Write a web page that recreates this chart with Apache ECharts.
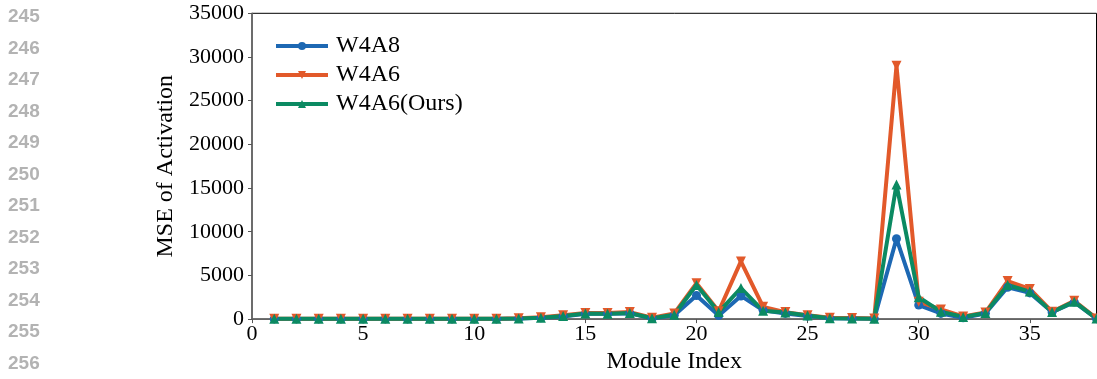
<!DOCTYPE html>
<html>
<head>
<meta charset="utf-8">
<script src="https://cdn.jsdelivr.net/npm/echarts@6/dist/echarts.min.js"></script>
<style>
html,body{margin:0;padding:0;background:#fff;}
#main{width:1097px;height:379px;}
</style>
</head>
<body>
<div id="main"></div>
<script>
const moduleIndex = [1,2,3,4,5,6,7,8,9,10,11,12,13,14,15,16,17,18,19,20,21,22,23,24,25,26,27,28,29,30,31,32,33,34,35,36,37,38];
const w4a8 = [20,20,20,20,20,20,20,20,20,20,20,60,150,300,600,600,650,80,450,2700,400,2650,1000,650,350,100,80,50,9200,1600,650,150,650,3650,3000,800,1950,50];
const w4a6 = [40,40,40,40,40,40,40,40,40,40,40,100,200,450,700,700,800,150,650,4100,900,6600,1400,800,450,150,120,80,29000,2000,1100,300,750,4350,3450,850,2100,80];
const w4a6Ours = [30,30,30,30,30,30,30,30,30,30,30,80,150,350,650,600,700,100,500,3900,800,3550,950,750,400,100,80,50,15400,2500,850,250,700,3900,3150,800,2000,60];
const lineNumbers = ['245','246','247','248','249','250','251','252','253','254','255','256'];

const serif = '"Liberation Serif", "DejaVu Serif", serif';
function pairs(vals){ return moduleIndex.map((x,i)=>[x, vals[i]]); }

const chart = echarts.init(document.getElementById('main'), null, {renderer:'canvas'});
const graphics = lineNumbers.map((t,i)=>({
  type:'text', left: 8, top: 7.3 + 31.5*i,
  style:{text:t, font:'bold 19px "Liberation Sans", Arial, sans-serif', fill:'#b3b3b3'}
}));

chart.setOption({
  animation:false,
  backgroundColor:'#fff',
  graphic: graphics,
  grid:{left:252, top:13.3, right:0.5, bottom:51.3, show:true, borderColor:'#000', borderWidth:1},
  legend:{
    left:269, top:29, orient:'vertical', itemWidth:52, itemHeight:10, itemGap:5,
    lineStyle:{width:4},
    textStyle:{fontFamily:serif, fontSize:24, color:'#000', lineHeight:24, padding:[0,0,0,3]},
    data:['W4A8','W4A6','W4A6(Ours)']
  },
  xAxis:{
    type:'value', min:0, max:38, interval:5,
    name:'Module Index', nameLocation:'middle', nameGap:30,
    nameTextStyle:{fontFamily:serif, fontSize:24, color:'#000'},
    axisLine:{show:true, onZero:false, lineStyle:{color:'#666', width:1.5}},
    axisTick:{show:true, inside:false, length:4, lineStyle:{color:'#555'}},
    axisLabel:{showMaxLabel:false, fontFamily:serif, fontSize:22, color:'#000', margin:4},
    splitLine:{show:false}
  },
  yAxis:{
    type:'value', min:0, max:35000, interval:5000,
    name:'MSE of Activation', nameLocation:'middle', nameGap:70,
    nameTextStyle:{fontFamily:serif, fontSize:24, color:'#000'},
    axisLine:{show:true, lineStyle:{color:'#666', width:1.5}},
    axisTick:{show:true, inside:false, length:4, lineStyle:{color:'#555'}},
    axisLabel:{fontFamily:serif, fontSize:22, color:'#000', margin:8, formatter:(v)=>String(v)},
    splitLine:{show:false}
  },
  series:[
    {name:'W4A8', type:'line', data:pairs(w4a8), symbol:'circle', symbolSize:9,
     color:'#1d68b3', lineStyle:{width:4, color:'#1d68b3'}, itemStyle:{color:'#1d68b3'}},
    {name:'W4A6', type:'line', data:pairs(w4a6), symbol:'triangle', symbolRotate:180, symbolSize:10,
     color:'#e2592a', lineStyle:{width:4, color:'#e2592a'}, itemStyle:{color:'#e2592a'}},
    {name:'W4A6(Ours)', type:'line', data:pairs(w4a6Ours), symbol:'triangle', symbolSize:10,
     color:'#0b8a62', lineStyle:{width:4, color:'#0b8a62'}, itemStyle:{color:'#0b8a62'}}
  ]
});
</script>
</body>
</html>
